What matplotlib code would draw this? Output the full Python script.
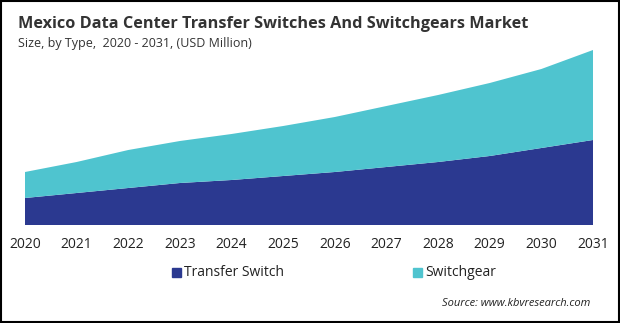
import numpy as np
import matplotlib.pyplot as plt
from matplotlib.patches import Rectangle

years = [2020, 2021, 2022, 2023, 2024, 2025, 2026, 2027, 2028, 2029, 2030, 2031]
transfer_switch = [27, 32, 37, 42, 45, 49, 53, 58, 63, 69, 77, 85]
switchgear = [26, 31, 38, 42, 46, 50, 55, 61, 67, 73, 79, 90]
series_names = ["Transfer Switch", "Switchgear"]
colors = ["#2b3990", "#4fc4cf"]

plt.rcParams['font.family'] = ['Open Sans', 'DejaVu Sans']

fig = plt.figure(figsize=(6.2, 3.23), dpi=100)
ax = fig.add_axes([25 / 620, 98 / 323, 568 / 620, 175 / 323])

ax.stackplot(years, transfer_switch, switchgear, colors=colors, linewidth=0)
ax.set_xlim(years[0], years[-1])
ax.set_ylim(0, 175)
ax.set_yticks([])
for s in ax.spines.values():
    s.set_visible(False)
ax.set_xticks(years)
ax.set_xticklabels([str(y) for y in years], fontsize=10, color="#222222")
ax.tick_params(axis="x", length=0, pad=9)

# titles
fig.text(18 / 620, 1 - 24 / 323, "Mexico Data Center Transfer Switches And Switchgears Market",
         fontsize=11.7, fontweight="bold", color="#333333", va="center")
fig.text(18 / 620, 1 - 44 / 323, "Size, by Type,  2020 - 2031, (USD Million)",
         fontsize=9, color="#333333", va="center")

# legend
leg_x = [172, 413]
for name, c, lx in zip(series_names, colors, leg_x):
    fig.patches.append(Rectangle((lx / 620, 1 - 277 / 323), 9 / 620, 9 / 323,
                                 transform=fig.transFigure, color=c))
    fig.text((lx + 12) / 620, 1 - 272 / 323, name, fontsize=10, color="#222222", va="center")

fig.text(590 / 620, 1 - 304 / 323, "Source: www.kbvresearch.com", fontsize=8,
         style="italic", color="#222222", ha="right", va="center")

# frame around the image
fig.patches.append(Rectangle((0.001, 0.002), 0.997, 0.996, transform=fig.transFigure,
                             fill=False, edgecolor="black", linewidth=1.5))

fig.savefig("out.png", dpi=100)
